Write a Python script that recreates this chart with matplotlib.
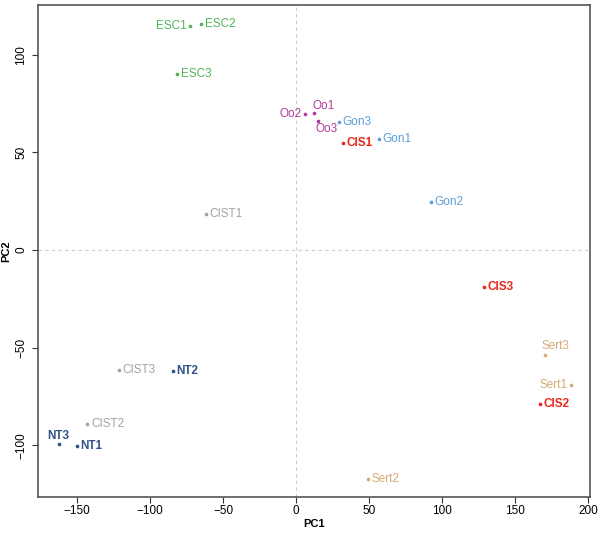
import matplotlib
matplotlib.use('Agg')
import matplotlib.pyplot as plt

plt.rcParams['font.family'] = ['Liberation Sans', 'DejaVu Sans']

samples = ['ESC1', 'ESC2', 'ESC3', 'CIST1', 'Oo2', 'Oo1', 'Oo3', 'Gon3', 'CIS1', 'Gon1',
           'Gon2', 'CIST3', 'NT2', 'CIST2', 'NT3', 'NT1', 'CIS3', 'Sert3', 'Sert1', 'CIS2', 'Sert2']
pc1 = [-72.6, -65, -81.5, -61.8, 5.7, 12.1, 14.8, 29.2, 32, 56.4,
       92, -121.7, -84.5, -143, -162.8, -150, 128.3, 170, 188, 167, 49.3]
pc2 = [114.5, 116, 90, 18.6, 69.6, 70, 66.2, 65.5, 55, 56.8,
       24.8, -61.2, -62, -89, -99.5, -100.2, -18.8, -53.5, -69.2, -79, -117]
groups = ['ESC', 'ESC', 'ESC', 'CIST', 'Oo', 'Oo', 'Oo', 'Gon', 'CIS', 'Gon',
          'Gon', 'CIST', 'NT', 'CIST', 'NT', 'NT', 'CIS', 'Sert', 'Sert', 'CIS', 'Sert']
# where the label sits relative to the dot
label_pos = ['left', 'right', 'right', 'right', 'left', 'upright', 'below', 'right', 'right', 'right',
             'right', 'right', 'right', 'right', 'above', 'right', 'right', 'aboveright', 'left', 'right', 'right']

colors = {'ESC': '#4fb558', 'CIST': '#a3a3a3', 'Oo': '#b0399d', 'Gon': '#5b9fd6',
          'CIS': '#e8291c', 'NT': '#2f5288', 'Sert': '#d6aa74'}
bold = {'CIS', 'NT'}

offsets = {'right': ((2.5, 0), 'left', 'center'),
           'left': ((-2.5, 0), 'right', 'center'),
           'above': ((0, 2), 'center', 'bottom'),
           'aboveright': ((-2, 2), 'left', 'bottom'),
           'below': ((-1.5, -1.5), 'left', 'top'),
           'upright': ((-1, 1), 'left', 'bottom')}

fig = plt.figure(figsize=(6, 5.34), dpi=100)
ax = fig.add_axes([0.063, 0.069, 0.92, 0.922])

ax.axhline(0, color='#cccccc', lw=0.8, ls=(0, (3, 3)), zorder=0)
ax.axvline(0, color='#cccccc', lw=0.8, ls=(0, (3, 3)), zorder=0)

for name, x, y, g, pos in zip(samples, pc1, pc2, groups, label_pos):
    c = colors[g]
    ax.scatter(x, y, s=7, color=c, zorder=3, linewidths=0)
    off, ha, va = offsets[pos]
    ax.annotate(name, (x, y), xytext=off, textcoords='offset points', ha=ha, va=va,
                fontsize=8.5, color=c, fontweight='bold' if g in bold else 'normal')

ax.set_xlim(-177, 201)
ax.set_ylim(-126.5, 125.6)
ax.set_xticks([-150, -100, -50, 0, 50, 100, 150, 200])
ax.set_yticks([-100, -50, 0, 50, 100])
ax.tick_params(labelsize=8.5, length=4, color='#333333')
ax.tick_params(axis='x', pad=2)
for lbl in ax.get_yticklabels():
    lbl.set_rotation(90)
    lbl.set_va('center')
for sp in ax.spines.values():
    sp.set_color('#555555')
    sp.set_linewidth(1.2)
ax.set_xlabel('PC1', fontsize=8, fontweight='bold', labelpad=1)
ax.set_ylabel('PC2', fontsize=8, fontweight='bold', labelpad=3)

fig.savefig('out.png', dpi=100)
